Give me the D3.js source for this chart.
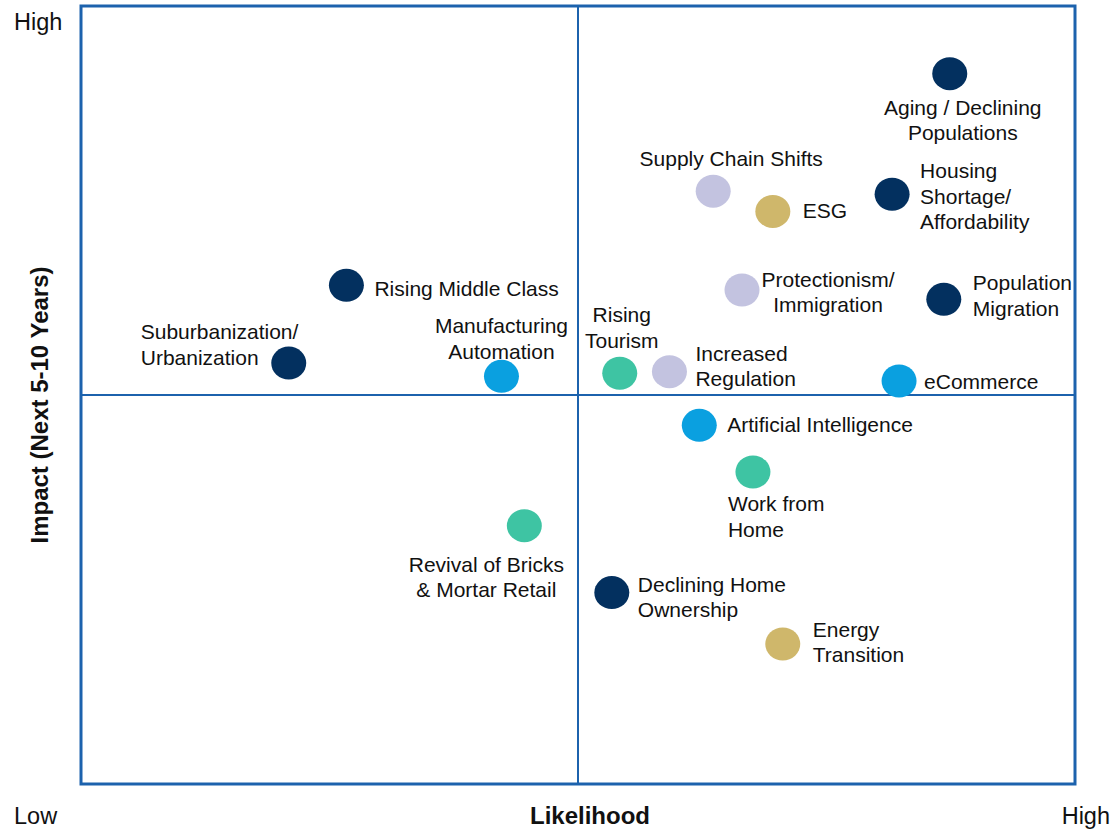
<!DOCTYPE html>
<html>
<head>
<meta charset="utf-8">
<script src="https://cdn.jsdelivr.net/npm/d3@7"></script>
<style>
  html, body { margin: 0; padding: 0; background: #fff; }
  svg { display: block; font-family: "Liberation Sans", Arial, sans-serif; }
</style>
</head>
<body>
<svg id="chart" width="1111" height="830"></svg>
<script>
// ---- Data ----
const names = [
  "Aging / Declining\nPopulations",
  "Housing\nShortage/\nAffordability",
  "ESG",
  "Supply Chain Shifts",
  "Protectionism/\nImmigration",
  "Population\nMigration",
  "Rising Middle Class",
  "Suburbanization/\nUrbanization",
  "Manufacturing\nAutomation",
  "Rising\nTourism",
  "Increased\nRegulation",
  "eCommerce",
  "Artificial Intelligence",
  "Work from\nHome",
  "Revival of Bricks\n& Mortar Retail",
  "Declining Home\nOwnership",
  "Energy\nTransition"
];
const likelihood = [8.74, 8.16, 6.96, 6.36, 6.65, 8.68, 2.67, 2.09, 4.23, 5.42, 5.92, 8.23, 6.22, 6.76, 4.46, 5.34, 7.06];
const impact     = [9.13, 7.58, 7.36, 7.62, 6.35, 6.23, 6.41, 5.41, 5.24, 5.28, 5.30, 5.18, 4.61, 4.01, 3.32, 2.46, 1.80];
const groups     = ["demo", "demo", "esg", "policy", "policy", "demo", "demo", "demo", "tech", "lifestyle", "policy", "tech", "tech", "lifestyle", "lifestyle", "demo", "esg"];
const axisLabels = { xLow: "Low", xHigh: "High", yHigh: "High", xTitle: "Likelihood", yTitle: "Impact (Next 5-10 Years)" };

// ---- Styling / layout (not data) ----
const groupColors = { demo: "#03305f", esg: "#cfb76b", policy: "#c3c3e0", tech: "#0aa0e0", lifestyle: "#3ec4a3" };
// label placement relative to the marker: [anchor, dx, dy of first baseline]
const labelPlacement = [
  ["middle", 13, 41], ["start", 28, -16], ["start", 30, 7], ["middle", 18, -25],
  ["middle", 86, -3], ["start", 29, -9], ["start", 28, 11], ["start", -148, -24],
  ["middle", 0, -43], ["middle", 2, -51], ["start", 26, -11], ["start", 25, 8],
  ["start", 28, 7], ["start", -25, 39], ["middle", -38, 46], ["start", 26, -1],
  ["start", 30, -7]
];

const svg = d3.select("#chart");
const pLeft = 81, pRight = 1075, pTop = 6, pBottom = 784;
const x = d3.scaleLinear().domain([0, 10]).range([pLeft, pRight]);
const y = d3.scaleLinear().domain([0, 10]).range([pBottom, pTop]);
const frameColor = "#1c62ad";

// quadrant lines
svg.append("line").attr("x1", x(5)).attr("x2", x(5)).attr("y1", y(0)).attr("y2", y(10))
  .attr("stroke", frameColor).attr("stroke-width", 2);
svg.append("line").attr("x1", x(0)).attr("x2", x(10)).attr("y1", y(5)).attr("y2", y(5))
  .attr("stroke", frameColor).attr("stroke-width", 2);
// frame
svg.append("rect").attr("x", x(0)).attr("y", y(10)).attr("width", x(10) - x(0)).attr("height", y(0) - y(10))
  .attr("fill", "none").attr("stroke", frameColor).attr("stroke-width", 3);

// axis texts
svg.append("text").attr("x", 14).attr("y", 30).attr("font-size", 23.5).attr("fill", "#111").text(axisLabels.yHigh);
svg.append("text").attr("x", 14).attr("y", 824).attr("font-size", 23.5).attr("fill", "#111").text(axisLabels.xLow);
svg.append("text").attr("x", 1110).attr("y", 824).attr("text-anchor", "end").attr("font-size", 23.5).attr("fill", "#111").text(axisLabels.xHigh);
svg.append("text").attr("x", x(5) + 12).attr("y", 824).attr("text-anchor", "middle").attr("font-size", 24)
  .attr("font-weight", "bold").attr("fill", "#111").text(axisLabels.xTitle);
svg.append("text").attr("transform", "translate(48," + (y(5) + 10) + ") rotate(-90)").attr("text-anchor", "middle")
  .attr("font-size", 24).attr("font-weight", "bold").attr("fill", "#111").text(axisLabels.yTitle);

// points
const items = names.map((n, i) => ({ name: n, lx: likelihood[i], im: impact[i], g: groups[i], p: labelPlacement[i] }));
const pts = svg.append("g").selectAll("g").data(items).join("g")
  .attr("transform", d => `translate(${x(d.lx)},${y(d.im)})`);
pts.append("ellipse").attr("rx", 17.5).attr("ry", 16.5).attr("fill", d => groupColors[d.g]);
pts.append("text")
  .attr("text-anchor", d => d.p[0])
  .attr("font-size", 21).attr("fill", "#111")
  .each(function(d) {
    const t = d3.select(this);
    d.name.split("\n").forEach((line, k) => {
      t.append("tspan").attr("x", d.p[1]).attr("y", d.p[2] + k * 25.5).text(line);
    });
  });
</script>
</body>
</html>
